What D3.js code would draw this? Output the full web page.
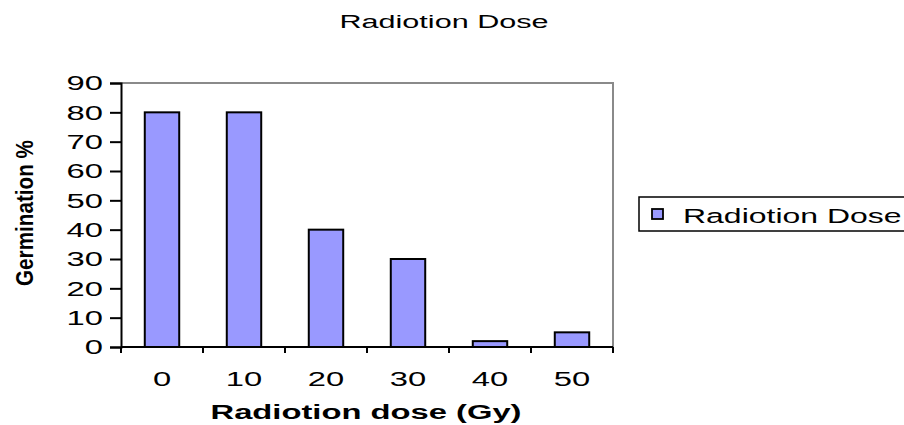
<!DOCTYPE html>
<html>
<head>
<meta charset="utf-8">
<script src="https://cdn.jsdelivr.net/npm/d3@7"></script>
<style>
  body { margin: 0; background: #fff; }
  text { font-family: "Liberation Sans", Arial, sans-serif; fill: #000; }
</style>
</head>
<body>
<div id="chart"></div>
<script>
const doses = ["0", "10", "20", "30", "40", "50"];
const germination = [80, 80, 40, 30, 2, 5];
const yTicks = [0, 10, 20, 30, 40, 50, 60, 70, 80, 90];
const seriesName = "Radiotion Dose";

const W = 904, H = 425;
const margin = {top: 83, right: 291, bottom: 78, left: 121};
const width = W - margin.left - margin.right;
const height = H - margin.top - margin.bottom;
// the source image text is stretched sideways
const sx = 1.68;

const svg = d3.select("#chart")
    .append("svg")
    .attr("width", W)
    .attr("height", H);

const g = svg.append("g")
    .attr("transform", `translate(${margin.left}, ${margin.top})`);

const x = d3.scaleBand()
    .domain(doses)
    .range([0, width])
    .paddingInner(0.58)
    .paddingOuter(0.29)

const y = d3.scaleLinear()
    .domain([0, 90])
    .range([height, 0])

// plot frame (top and right, grey)
g.append("path")
    .attr("d", `M0,${y(90)}H${width}V${height}`)
    .attr("fill", "none")
    .attr("stroke", "#8a8a8a")
    .attr("stroke-width", 2)

g.selectAll("rect.bar")
    .data(germination)
    .enter()
    .append("rect")
        .classed("bar", true)
        .attr("x", (d, i) => x(doses[i]))
        .attr("y", d => y(d))
        .attr("width", x.bandwidth())
        .attr("height", d => height - y(d))
        .attr("fill", "#9999ff")
        .attr("stroke", "#000")
        .attr("stroke-width", 2)

// y axis
const yAxis = g.append("g")
    .call(d3.axisLeft(y).tickValues(yTicks).tickSize(11))
yAxis.select(".domain").attr("stroke-width", 2)
yAxis.selectAll(".tick line").attr("stroke-width", 2)
yAxis.selectAll(".tick text")
    .attr("x", null)
    .attr("dy", "0.35em")
    .attr("transform", `translate(-18,0) scale(${sx},1)`)
    .style("font-size", "19.5px")

// x axis: ticks on category boundaries, pointing down
const xAxis = g.append("g")
    .attr("transform", `translate(0, ${height})`)
xAxis.append("line")
    .attr("x1", 0).attr("x2", width)
    .attr("stroke", "#000").attr("stroke-width", 2)
xAxis.selectAll("line.tk")
    .data(d3.range(doses.length + 1))
    .enter()
    .append("line")
        .classed("tk", true)
        .attr("x1", i => i * width / doses.length)
        .attr("x2", i => i * width / doses.length)
        .attr("y1", 0).attr("y2", 6)
        .attr("stroke", "#000").attr("stroke-width", 2)
xAxis.selectAll("text.lbl")
    .data(doses)
    .enter()
    .append("text")
        .classed("lbl", true)
        .attr("transform", d => `translate(${x(d) + x.bandwidth() / 2}, 39) scale(${sx},1)`)
        .attr("text-anchor", "middle")
        .style("font-size", "19.5px")
        .text(d => d)

// titles
svg.append("text")
    .attr("transform", `translate(444, 28) scale(${sx},1)`)
    .attr("text-anchor", "middle")
    .style("font-size", "18.2px")
    .text(seriesName)

svg.append("text")
    .attr("transform", `translate(366, 419) scale(${sx},1)`)
    .attr("text-anchor", "middle")
    .style("font-size", "19.5px")
    .style("font-weight", "bold")
    .text("Radiotion dose (Gy)")

svg.append("text")
    .attr("transform", "translate(33, 213) rotate(-90)")
    .attr("text-anchor", "middle")
    .attr("textLength", 146)
    .attr("lengthAdjust", "spacingAndGlyphs")
    .style("font-size", "23px")
    .style("font-weight", "bold")
    .text("Germination %")

// legend
const legend = svg.append("g").attr("transform", "translate(639, 197)")
legend.append("rect")
    .attr("width", 280).attr("height", 34)
    .attr("fill", "#fff").attr("stroke", "#000").attr("stroke-width", 1.5)
legend.append("rect")
    .attr("x", 13).attr("y", 12).attr("width", 11).attr("height", 10)
    .attr("fill", "#9999ff").attr("stroke", "#000").attr("stroke-width", 1.8)
legend.append("text")
    .attr("transform", `translate(44, 26) scale(1.64,1)`)
    .style("font-size", "19.5px")
    .text(seriesName)
</script>
</body>
</html>
